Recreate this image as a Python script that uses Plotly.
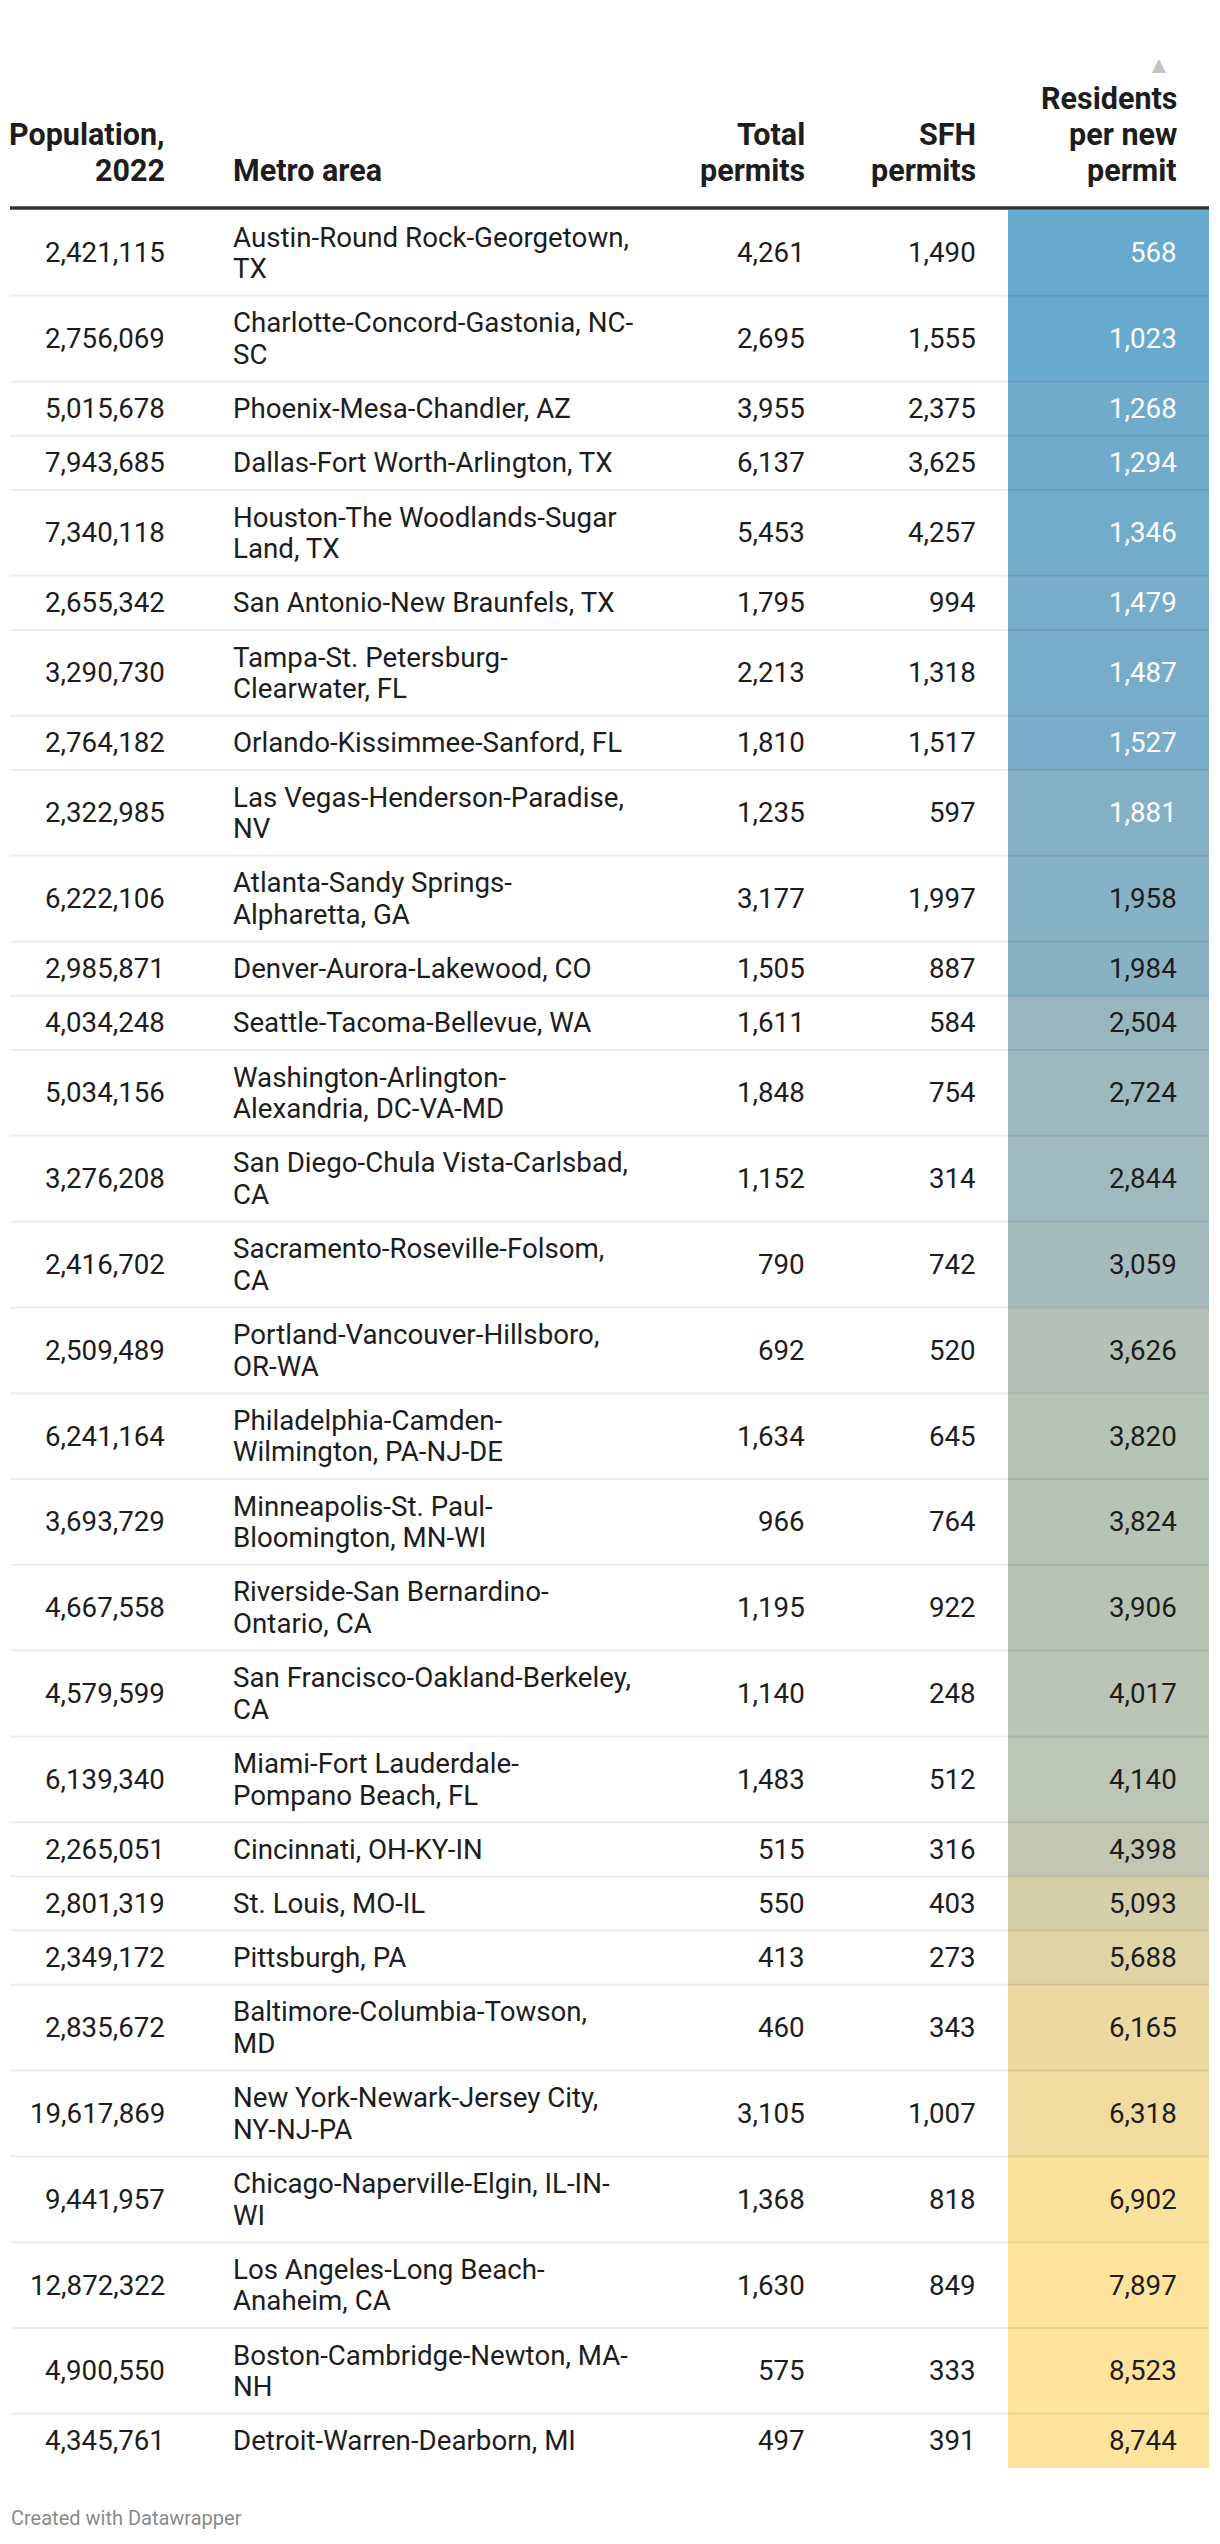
import plotly.graph_objects as go

# ---------------- data ----------------
POPULATION = [2421115, 2756069, 5015678, 7943685, 7340118, 2655342, 3290730, 2764182,
              2322985, 6222106, 2985871, 4034248, 5034156, 3276208, 2416702, 2509489,
              6241164, 3693729, 4667558, 4579599, 6139340, 2265051, 2801319, 2349172,
              2835672, 19617869, 9441957, 12872322, 4900550, 4345761]
METRO = [
    "Austin-Round Rock-Georgetown,\nTX",
    "Charlotte-Concord-Gastonia, NC-\nSC",
    "Phoenix-Mesa-Chandler, AZ",
    "Dallas-Fort Worth-Arlington, TX",
    "Houston-The Woodlands-Sugar\nLand, TX",
    "San Antonio-New Braunfels, TX",
    "Tampa-St. Petersburg-\nClearwater, FL",
    "Orlando-Kissimmee-Sanford, FL",
    "Las Vegas-Henderson-Paradise,\nNV",
    "Atlanta-Sandy Springs-\nAlpharetta, GA",
    "Denver-Aurora-Lakewood, CO",
    "Seattle-Tacoma-Bellevue, WA",
    "Washington-Arlington-\nAlexandria, DC-VA-MD",
    "San Diego-Chula Vista-Carlsbad,\nCA",
    "Sacramento-Roseville-Folsom,\nCA",
    "Portland-Vancouver-Hillsboro,\nOR-WA",
    "Philadelphia-Camden-\nWilmington, PA-NJ-DE",
    "Minneapolis-St. Paul-\nBloomington, MN-WI",
    "Riverside-San Bernardino-\nOntario, CA",
    "San Francisco-Oakland-Berkeley,\nCA",
    "Miami-Fort Lauderdale-\nPompano Beach, FL",
    "Cincinnati, OH-KY-IN",
    "St. Louis, MO-IL",
    "Pittsburgh, PA",
    "Baltimore-Columbia-Towson,\nMD",
    "New York-Newark-Jersey City,\nNY-NJ-PA",
    "Chicago-Naperville-Elgin, IL-IN-\nWI",
    "Los Angeles-Long Beach-\nAnaheim, CA",
    "Boston-Cambridge-Newton, MA-\nNH",
    "Detroit-Warren-Dearborn, MI",
]
TOTAL_PERMITS = [4261, 2695, 3955, 6137, 5453, 1795, 2213, 1810, 1235, 3177, 1505, 1611,
                 1848, 1152, 790, 692, 1634, 966, 1195, 1140, 1483, 515, 550, 413, 460,
                 3105, 1368, 1630, 575, 497]
SFH_PERMITS = [1490, 1555, 2375, 3625, 4257, 994, 1318, 1517, 597, 1997, 887, 584, 754,
               314, 742, 520, 645, 764, 922, 248, 512, 316, 403, 273, 343, 1007, 818, 849,
               333, 391]
RESIDENTS_PER_PERMIT = [568, 1023, 1268, 1294, 1346, 1479, 1487, 1527, 1881, 1958, 1984,
                        2504, 2724, 2844, 3059, 3626, 3820, 3824, 3906, 4017, 4140, 4398,
                        5093, 5688, 6165, 6318, 6902, 7897, 8523, 8744]

HEADERS = [
    ["Population,", "2022"],
    ["Metro area"],
    ["Total", "permits"],
    ["SFH", "permits"],
    ["Residents", "per new", "permit"],
]
FOOTER = "Created with Datawrapper"

# ---------------- styling / layout ----------------
W, H = 1220, 2544
FONT = "Roboto"
FS = 27.7
HFS = 30.5
TXT = "#1d1d1d"
TABLE_L, TABLE_R = 10, 1209
COL_X = [165.5, 232, 806, 977, 1178]          # anchor x for each column
COL_ANCHOR = ["right", "left", "right", "right", "right"]
HEAT_L, HEAT_R = 1008, 1209
BODY_TOP = 210
ROW_BASE_H = 54.2
LINE_H = 31.6
HEADER_BOTTOM_Y = 170
HEADER_LINE_H = 35.6
HEADER_RULE_Y = 208
COLOR_MIN, COLOR_MAX = 1000, 7000
COLORSCALE = [
    [0.000, "#67a9cf"],
    [0.088, "#79adc9"],
    [0.164, "#88b1c4"],
    [0.250, "#97b6c0"],
    [0.343, "#a6bbbc"],
    [0.471, "#b7c3b6"],
    [0.566, "#c2c6b2"],
    [0.682, "#d5cfaa"],
    [0.781, "#e0d4a6"],
    [0.873, "#eedba1"],
    [1.000, "#fde39b"],
]
WHITE_TEXT_BELOW = 1900


def fmt(v):
    return f"{v:,}"


n = len(METRO)
lines_per_row = [len(m.split("\n")) for m in METRO]
heights = [ROW_BASE_H + (k - 1) * LINE_H for k in lines_per_row]
tops = []
y = BODY_TOP
for h in heights:
    tops.append(y)
    y += h
centers = [t + h / 2 for t, h in zip(tops, heights)]

fig = go.Figure()

# heat-coloured column
fig.add_trace(go.Bar(
    x=[(HEAT_L + HEAT_R) / 2] * n,
    y=heights,
    base=tops,
    width=HEAT_R - HEAT_L,
    marker=dict(color=RESIDENTS_PER_PERMIT, colorscale=COLORSCALE,
                cmin=COLOR_MIN, cmax=COLOR_MAX, line=dict(width=0)),
    hoverinfo="skip",
    showlegend=False,
))

shapes = []
# row separators
for i in range(n - 1):
    yb = tops[i] + heights[i]
    shapes.append(dict(type="line", xref="x", yref="y", x0=TABLE_L, x1=HEAT_L, y0=yb, y1=yb,
                       line=dict(color="#ececec", width=2), layer="above"))
    shapes.append(dict(type="line", xref="x", yref="y", x0=HEAT_L, x1=HEAT_R, y0=yb, y1=yb,
                       line=dict(color="rgba(0,0,0,0.07)", width=2), layer="above"))
# header rule
shapes.append(dict(type="line", xref="x", yref="y", x0=TABLE_L, x1=TABLE_R,
                   y0=HEADER_RULE_Y, y1=HEADER_RULE_Y,
                   line=dict(color="#333333", width=3.5), layer="above"))

annotations = []


def add_text(x, yy, text, anchor, color=TXT, size=FS, bold=False):
    annotations.append(dict(
        x=x, y=yy, xref="x", yref="y", text=f"<b>{text}</b>" if bold else text,
        showarrow=False, xanchor=anchor, yanchor="middle", align=anchor,
        font=dict(family=FONT, size=size, color=color), borderpad=0,
    ))


# headers
for ci, hdr in enumerate(HEADERS):
    k = len(hdr)
    for li, line in enumerate(hdr):
        yy = HEADER_BOTTOM_Y - (k - 1 - li) * HEADER_LINE_H
        add_text(COL_X[ci], yy, line, COL_ANCHOR[ci], size=HFS, bold=True)

# sort indicator
add_text(1159, 65, "▲", "center", color="#c4c4c4", size=24)

# body
for i in range(n):
    c = centers[i]
    add_text(COL_X[0], c, fmt(POPULATION[i]), "right")
    mlines = METRO[i].split("\n")
    k = len(mlines)
    for li, line in enumerate(mlines):
        yy = c + (li - (k - 1) / 2) * LINE_H
        add_text(COL_X[1], yy, line, "left")
    add_text(COL_X[2], c, fmt(TOTAL_PERMITS[i]), "right")
    add_text(COL_X[3], c, fmt(SFH_PERMITS[i]), "right")
    rv = RESIDENTS_PER_PERMIT[i]
    add_text(COL_X[4], c, fmt(rv), "right",
             color="#ffffff" if rv < WHITE_TEXT_BELOW else TXT)

# footer
add_text(TABLE_L, 2518, FOOTER, "left", color="#8a8a8a", size=20)

fig.update_layout(
    width=W, height=H,
    margin=dict(l=0, r=0, t=0, b=0),
    paper_bgcolor="white", plot_bgcolor="white",
    xaxis=dict(range=[0, W], visible=False, fixedrange=True),
    yaxis=dict(range=[H, 0], visible=False, fixedrange=True),
    shapes=shapes,
    annotations=annotations,
    bargap=0,
)

fig.write_html("out.html", config={"displayModeBar": False},
               post_script="document.body.style.margin='0';document.body.style.overflow='hidden';")
